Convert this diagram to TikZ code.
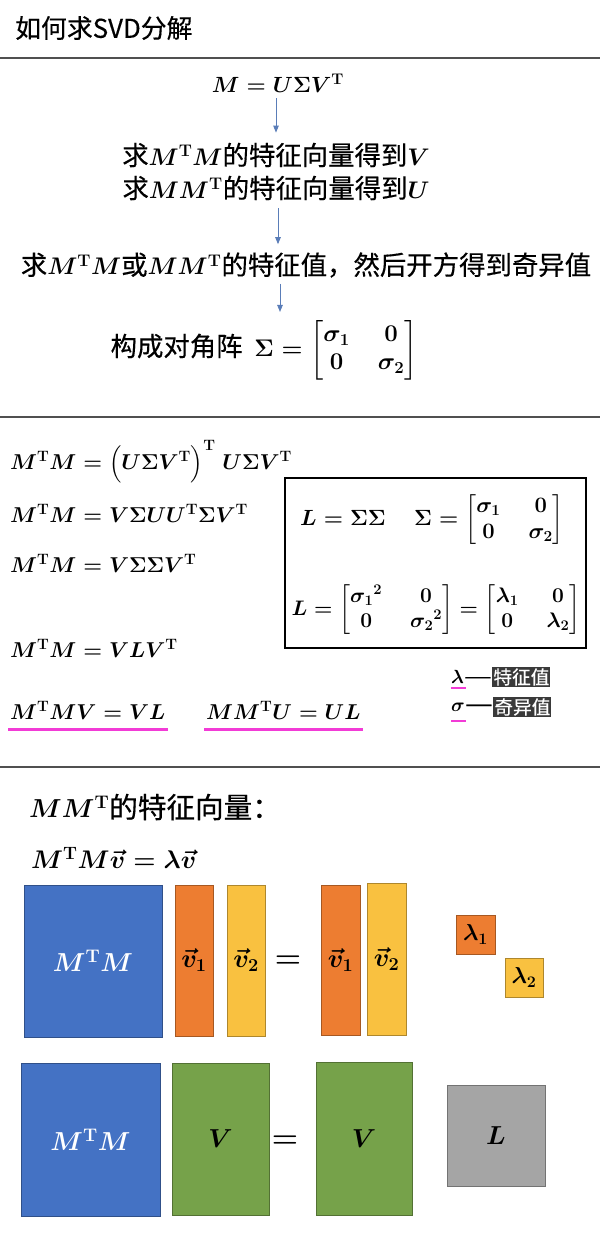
\RequirePackage{fix-cm}
\documentclass[tikz,border=0pt]{standalone}
\usepackage{amsmath}
\usepackage[no-math]{fontspec}
\setmainfont{Noto Sans CJK SC}[Scale=1.1, FakeBold=0.4]
\usetikzlibrary{arrows.meta}
\definecolor{sepgray}{HTML}{505050}
\definecolor{arrblue}{HTML}{5A7DB8}
\definecolor{ulpink}{HTML}{F23BD6}
\definecolor{cblue}{HTML}{4472C4}
\definecolor{corange}{HTML}{ED7D31}
\definecolor{cyellow}{HTML}{F9C140}
\definecolor{cgreen}{HTML}{76A24A}
\definecolor{cgray}{HTML}{A5A5A5}
\definecolor{labbg}{HTML}{3A3A3A}
\setlength{\arraycolsep}{14pt}
\begin{document}
\begin{tikzpicture}[x=1pt,y=-1pt,
  sep/.style={line width=2.5pt, draw=sepgray},
  arr/.style={draw=arrblue, line width=0.9pt, -{Triangle[length=7pt,width=5.5pt]}},
  txt/.style={inner sep=2pt, font=\fontsize{24}{28}\selectfont\boldmath},
  eqn/.style={inner sep=2pt, anchor=west, font=\fontsize{21.5}{26}\selectfont\boldmath},
  bx/.style={inner sep=2pt, font=\fontsize{22}{26}\selectfont\boldmath},
  lab/.style={inner sep=0pt, anchor=west, font=\fontsize{19}{22}\selectfont\boldmath},
  labv/.style={inner sep=1pt, anchor=west, fill=labbg, text=white, font=\fontsize{17}{20}\selectfont},
  ul/.style={draw=ulpink, line width=3pt},
  ulsmall/.style={draw=ulpink, line width=2pt},
  blk/.style={draw=#1!70!black, fill=#1, line width=0.8pt, inner sep=0pt},
  blktext/.style={font=\fontsize{26}{30}\selectfont\boldmath},
  eqbig/.style={font=\fontsize{30}{32}\selectfont\boldmath, inner sep=0pt}
]
\useasboundingbox (0,0) rectangle (600,1240);
\fill[white] (0,0) rectangle (600,1240);

% title and separators
\node[anchor=west, font=\fontsize{23.5}{27}\selectfont, inner sep=0pt] (title) at (15,28) {如何求SVD分解};
\draw[sep] (0,58) -- (600,58);
\draw[sep] (0,417) -- (600,417);
\draw[sep] (0,767) -- (600,767);

% section 1
\node[txt, font=\fontsize{22}{26}\selectfont\boldmath] (eq1) at (278,83) {$M = U\Sigma V^{\mathrm T}$};
\node[txt] (s1a) at (276,155) {求$M^{\mathrm T}M$的特征向量得到$V$};
\node[txt] (s1b) at (276,188) {求$MM^{\mathrm T}$的特征向量得到$U$};
\node[txt] (s1c) at (306,265) {求$M^{\mathrm T}M$或$MM^{\mathrm T}$的特征值，然后开方得到奇异值};
\node[txt] (s1d) at (264,350) {构成对角阵\ \ $\Sigma = \begin{bmatrix}\sigma_1 & 0\\ 0 & \sigma_2\end{bmatrix}$};
\draw[arr, shorten <=4pt, shorten >=8pt] (s1a.north |- eq1.south) -- (s1a.north);
\draw[arr, shorten <=6pt, shorten >=6pt] ([xshift=2pt]s1b.south) -- ([xshift=2pt]s1b.south |- s1c.north);
\draw[arr, shorten <=4pt, shorten >=6pt] ([xshift=-26pt]s1c.south) -- ([xshift=-26pt]s1c.south |- s1d.north);

% section 2
\node[eqn] (e1) at (8,462) {$M^{\mathrm T}M = \Bigl(U\Sigma V^{\mathrm T}\Bigr)^{\mathrm T}\; U\Sigma V^{\mathrm T}$};
\node[eqn] (e2) at (8,513) {$M^{\mathrm T}M = V\Sigma U U^{\mathrm T}\Sigma V^{\mathrm T}$};
\node[eqn] (e3) at (8,563) {$M^{\mathrm T}M = V\Sigma\Sigma V^{\mathrm T}$};
\node[eqn] (e4) at (8,648) {$M^{\mathrm T}M = VLV^{\mathrm T}$};
\node[eqn] (e5) at (8,710) {$M^{\mathrm T}MV = VL$};
\node[eqn] (e6) at (204,710) {$MM^{\mathrm T}U = UL$};
\draw[ul] ([yshift=-10pt]e5.base west) -- ([yshift=-10pt]e5.base east);
\draw[ul] ([yshift=-10pt]e6.base west) -- ([yshift=-10pt]e6.base east);

\node[draw, line width=1.8pt, minimum width=301pt, minimum height=170pt, inner sep=0pt] (lbox) at (435.5,563) {};
\node[bx] (b1) at (432,520) {$L = \Sigma\Sigma \quad\, \Sigma = \begin{bmatrix}\sigma_1 & 0\\ 0 & \sigma_2\end{bmatrix}$};
\node[bx, font=\fontsize{21}{25}\selectfont\boldmath] (b2) at (436,610) {$L = \begin{bmatrix}{\sigma_1}^2 & 0\\ 0 & {\sigma_2}^2\end{bmatrix} = \begin{bmatrix}\lambda_1 & 0\\ 0 & \lambda_2\end{bmatrix}$};

\node[lab] (lam) at (451,677) {$\lambda$\scalebox{1.5}[1]{—}};
\node[labv] (lamv) at (lam.east) {特征值};
\node[lab] (sig) at (451,707) {$\sigma$\scalebox{1.5}[1]{—}};
\node[labv] (sigv) at (sig.east) {奇异值};
\draw[ulsmall] ([yshift=-4pt]lam.base west) -- ++(15,0);
\draw[ulsmall] ([yshift=-10pt]sig.base west) -- ++(15,0);

% section 3
\node[anchor=west, inner sep=0pt, font=\fontsize{26}{30}\selectfont\boldmath] (h3) at (29,807) {$MM^{\mathrm T}$的特征向量：};
\node[anchor=west, inner sep=0pt, font=\fontsize{25.5}{30}\selectfont\boldmath] (e7) at (31,858) {$M^{\mathrm T}M\vec v = \lambda\vec v$};

\node[blk=cblue, minimum width=138pt, minimum height=152pt, text=white, blktext] (mtm1) at (93,961) {$M^{\mathrm T}M$};
\node[blk=corange, minimum width=38pt, minimum height=151pt, blktext] (v1a) at (194,960.5) {$\vec v_1$};
\node[blk=cyellow, minimum width=38pt, minimum height=151pt, blktext] (v2a) at (246,960.5) {$\vec v_2$};
\node[eqbig] (eqa) at (288,962) {$=$};
\node[blk=corange, minimum width=39pt, minimum height=150pt, blktext] (v1b) at (340.5,960) {$\vec v_1$};
\node[blk=cyellow, minimum width=39pt, minimum height=152pt, blktext] (v2b) at (386.5,959) {$\vec v_2$};
\node[blk=corange, minimum width=39pt, minimum height=39pt, font=\fontsize{23}{26}\selectfont\boldmath] (l1) at (475.5,934.5) {$\lambda_1$};
\node[blk=cyellow, minimum width=38pt, minimum height=39pt, font=\fontsize{23}{26}\selectfont\boldmath] (l2) at (524,977.5) {$\lambda_2$};

\node[blk=cblue, minimum width=139pt, minimum height=153pt, text=white, blktext] (mtm2) at (90.5,1139.5) {$M^{\mathrm T}M$};
\node[blk=cgreen, minimum width=97pt, minimum height=152pt, blktext] (vg1) at (220.5,1139) {$V$};
\node[eqbig] (eqb) at (285,1142) {$=$};
\node[blk=cgreen, minimum width=96pt, minimum height=153pt, blktext] (vg2) at (364,1138.5) {$V$};
\node[blk=cgray, minimum width=98pt, minimum height=101pt, blktext] (lg) at (496,1135.5) {$L$};
\end{tikzpicture}
\end{document}
